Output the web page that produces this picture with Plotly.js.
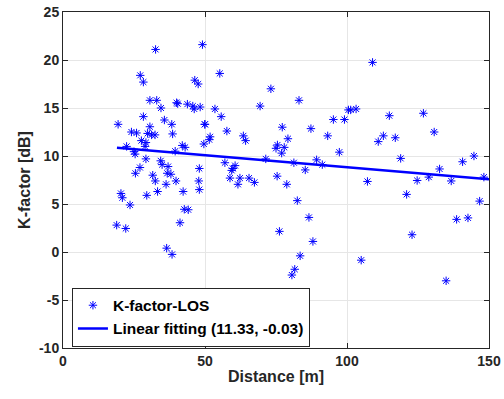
<!DOCTYPE html>
<html>
<head>
<meta charset="utf-8">
<script src="https://cdn.plot.ly/plotly-3.0.1.min.js"></script>
<style>html,body{margin:0;padding:0;background:#fff;}#chart{width:504px;height:399px;}</style>
</head>
<body>
<div id="chart"></div>
<script>
// Measured K-factor samples (LOS)
const distance = [
  32.6, 49.1, 27.2, 28.3, 46.4, 47.6, 30.6, 33.0, 34.5, 40.0, 40.4, 43.8, 45.7, 46.2, 48.3,
  28.3, 35.7, 38.3, 19.4, 30.6, 50.0, 24.1, 25.9, 29.8, 31.2, 32.4, 38.6, 27.6, 29.2, 28.9,
  22.4, 42.0, 43.0, 49.6, 39.5, 25.0, 25.4, 29.2, 34.4, 34.9, 37.0, 27.1, 48.0, 25.5, 31.6,
  36.7, 38.0, 32.5, 39.8, 36.3, 47.8, 48.0, 20.4, 20.9, 29.5, 33.3, 42.3, 23.6, 42.7, 44.1,
  41.2, 18.9, 22.1, 36.5, 38.4,
  55.2, 73.2, 83.1, 69.4, 53.5, 55.7, 49.9, 100.5, 95.2, 99.1, 77.2, 87.3, 57.7, 51.8, 51.5,
  63.5, 64.3, 93.2, 79.2, 75.5, 75.0, 77.9, 77.0, 97.3, 71.4, 89.3, 91.3, 81.3, 57.0, 60.6,
  59.8, 59.4, 85.3, 75.4, 58.8, 62.3, 65.5, 61.6, 67.4, 78.8, 82.5, 86.6, 76.2, 88.0, 83.5,
  81.6, 80.6,
  109.0, 101.3, 103.2, 114.9, 126.9, 130.7, 112.8, 111.0, 117.0, 118.9, 132.6, 140.7, 144.7, 148.2,
  107.2, 124.7, 128.8, 136.7, 121.0, 146.7, 138.6, 142.6, 122.9, 105.0, 134.9
];
const kFactor = [
  21.1, 21.6, 18.4, 17.7, 17.9, 17.5, 15.8, 15.8, 15.0, 15.55, 15.45, 15.4, 15.2, 14.9, 15.1,
  14.1, 13.75, 13.3, 13.3, 13.05, 13.3, 12.5, 12.4, 12.35, 12.2, 12.2, 12.3, 11.6, 11.4, 11.0,
  11.0, 11.1, 10.9, 11.25, 10.5, 10.45, 10.2, 9.7, 9.5, 9.1, 8.9, 8.8, 8.7, 8.2, 8.0,
  8.2, 8.1, 7.4, 7.4, 7.05, 7.4, 6.5, 6.1, 5.65, 5.9, 6.3, 6.3, 4.9, 4.45, 4.4,
  3.05, 2.8, 2.45, 0.4, -0.25,
  18.6, 17.0, 15.8, 15.2, 14.9, 14.1, 13.3, 14.8, 13.8, 13.8, 13.0, 12.85, 12.6, 12.0, 11.7,
  12.1, 11.6, 12.1, 11.8, 11.15, 10.8, 10.9, 10.3, 10.4, 9.7, 9.6, 9.1, 9.3, 9.3, 9.0,
  8.7, 8.5, 8.55, 7.9, 7.7, 7.7, 7.7, 7.05, 7.25, 7.05, 5.35, 3.6, 2.15, 1.1, -0.4,
  -1.8, -2.4,
  19.75, 14.8, 14.9, 14.2, 14.45, 12.5, 12.1, 11.5, 11.9, 9.75, 8.65, 9.4, 10.0, 7.8,
  7.35, 7.45, 7.8, 7.4, 6.0, 5.3, 3.4, 3.55, 1.8, -0.85, -3.0
];
// Linear fit end points
const fitX = [19, 150];
const fitY = [10.86, 7.58];

const xTicks = [0, 50, 100, 150];
const yTicks = [-10, -5, 0, 5, 10, 15, 20, 25];

const fam = 'Liberation Sans, Arial, sans-serif';
const tickFont = {family: fam, size: 14, color: '#262626', weight: 'bold'};
const titleFont = {family: fam, size: 16, color: '#262626', weight: 'bold'};

const traces = [
  {
    x: distance, y: kFactor, type: 'scatter', mode: 'markers', name: 'K-factor-LOS',
    marker: {symbol: 'asterisk-open', size: 7, color: '#0000ff', line: {color: '#0000ff', width: 1}}
  },
  {
    x: fitX, y: fitY, type: 'scatter', mode: 'lines', name: 'Linear fitting (11.33, -0.03)',
    line: {color: '#0000ff', width: 2.5}
  }
];

const axisCommon = {
  showline: true, linecolor: '#262626', linewidth: 1, mirror: 'ticks',
  ticks: 'inside', ticklen: 5, tickcolor: '#262626', tickwidth: 1,
  showgrid: true, gridcolor: '#e6e6e6', gridwidth: 1, zeroline: false,
  tickfont: tickFont
};

const layout = {
  width: 504, height: 399,
  margin: {l: 63, r: 15, t: 12, b: 51},
  paper_bgcolor: '#ffffff', plot_bgcolor: '#ffffff',
  showlegend: true,
  legend: {
    x: 0.021, y: 0.004, xanchor: 'left', yanchor: 'bottom',
    bgcolor: '#ffffff', bordercolor: '#262626', borderwidth: 1,
    font: {family: fam, size: 15.5, color: '#000', weight: 'bold'},
    tracegroupgap: 0
  },
  xaxis: Object.assign({}, axisCommon, {
    range: [0, 150], tickvals: xTicks, ticktext: xTicks.map(String),
    title: {text: 'Distance [m]', font: titleFont, standoff: 3}
  }),
  yaxis: Object.assign({}, axisCommon, {
    range: [-10, 25], tickvals: yTicks, ticktext: yTicks.map(String),
    title: {text: 'K-factor [dB]', font: titleFont, standoff: 4}
  })
};

Plotly.newPlot('chart', traces, layout, {displayModeBar: false, staticPlot: true});
</script>
</body>
</html>
